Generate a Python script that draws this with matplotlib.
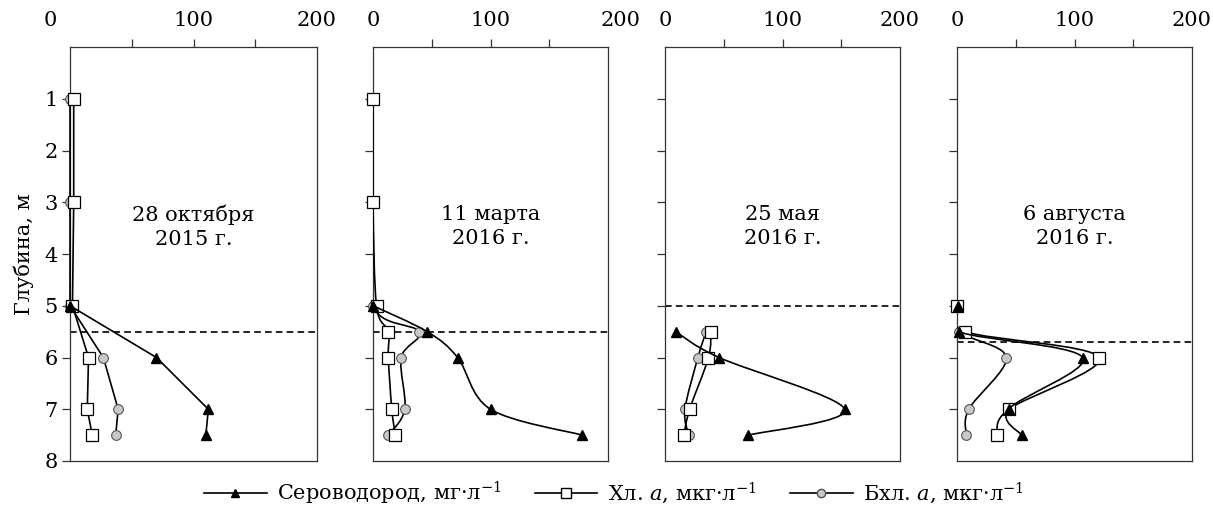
import numpy as np
import matplotlib.pyplot as plt
from matplotlib.path import Path
from matplotlib.patches import PathPatch
from matplotlib.lines import Line2D
from matplotlib.transforms import ScaledTranslation

plt.rcParams['font.family'] = ['DejaVu Serif']
plt.rcParams['mathtext.fontset'] = 'dejavuserif'

# глубины и значения
titles = ['28 октября\n2015 г.', '11 марта\n2016 г.', '25 мая\n2016 г.', '6 августа\n2016 г.']

h2s_depth = [[5, 6, 7, 7.5], [5, 5.5, 6, 7, 7.5], [5.5, 6, 7, 7.5], [5, 5.5, 6, 7, 7.5]]
h2s_val = [[0, 70, 112, 110], [0, 46, 72, 100, 178], [9, 46, 153, 71], [0.5, 1.5, 107, 44, 55]]

chl_depth = [[1, 3, 5, 6, 7, 7.5], [1, 3, 5, 5.5, 6, 7, 7.5], [5.5, 6, 7, 7.5], [5, 5.5, 6, 7, 7.5]]
chl_val = [[3, 3, 2, 15, 14, 18], [0, 0, 3, 13, 13, 16, 19], [39, 37, 21, 16], [0, 7, 121, 44, 34]]

bchl_depth = [[1, 3, 5, 6, 7, 7.5], [1, 3, 5, 5.5, 6, 7, 7.5], [5.5, 6, 7, 7.5], [5, 5.5, 6, 7, 7.5]]
bchl_val = [[0, 0, 0, 27, 39, 37], [0, 0, 0, 39, 24, 27, 13], [35, 28, 17, 20], [0, 2, 42, 10, 8]]

redox = [5.5, 5.5, 5.0, 5.7]  # пунктир
smooth = [False, True, True, True]

# положение панелей в пикселях (left, width)
W, H = 1213, 507
panels = [(70, 247), (373, 235), (665, 235), (957, 235)]
top, bottom = 47, 461
FS = 15


def smooth_path(x, y):
    pts = np.column_stack([x, y]).astype(float)
    n = len(pts)
    verts = [pts[0]]
    codes = [Path.MOVETO]
    for i in range(n - 1):
        p0 = pts[i - 1] if i > 0 else pts[i]
        p1 = pts[i]
        p2 = pts[i + 1]
        p3 = pts[i + 2] if i + 2 < n else pts[i + 1]
        verts += [p1 + (p2 - p0) / 6, p2 - (p3 - p1) / 6, p2]
        codes += [Path.CURVE4] * 3
    return Path(verts, codes)


def draw(ax, x, y, sm, **kw):
    if sm:
        ax.add_patch(PathPatch(smooth_path(x, y), fc='none', ec='black', lw=1.2,
                               zorder=kw.get('zorder', 2)))
        ax.plot(x, y, ls='none', clip_on=False, **kw)
    else:
        ax.plot(x, y, color='black', lw=1.2, clip_on=False, **kw)


fig = plt.figure(figsize=(W / 100, H / 100), dpi=100)

for i, (l, w) in enumerate(panels):
    ax = fig.add_axes([l / W, (H - bottom) / H, w / W, (bottom - top) / H])
    sm = smooth[i]
    draw(ax, bchl_val[i], bchl_depth[i], sm, marker='o', ms=7, mfc='#c8c8c8', mec='#555555', mew=0.8, zorder=3)
    draw(ax, chl_val[i], chl_depth[i], sm, marker='s', ms=8.5, mfc='white', mec='black', mew=0.9, zorder=4)
    draw(ax, h2s_val[i], h2s_depth[i], sm, marker='^', ms=7.5, mfc='black', mec='black', zorder=5)
    ax.axhline(redox[i], color='black', lw=1.2, ls=(0, (4, 2.5)), zorder=1)

    ax.set_xlim(0, 200)
    ax.set_ylim(8, 0)
    ax.xaxis.remove_overlapping_locs = False
    ax.xaxis.tick_top()
    ax.set_xticks([50, 100, 150])
    ax.set_xticklabels([])
    ax.set_xticks([0, 100, 200], minor=True)
    ax.set_xticklabels(['0', '100', '200'], minor=True)
    ax.tick_params(axis='x', which='major', direction='out', length=6, width=0.9, color='#333333')
    ax.tick_params(axis='x', which='minor', length=0, pad=12, labelsize=FS, top=True, labeltop=True,
                   bottom=False, labelbottom=False)
    ax.set_yticks([1, 2, 3, 4, 5, 6, 7])
    ax.tick_params(axis='y', direction='out', length=6, width=0.9, color='#333333', labelsize=FS, pad=3)
    if i == 0:
        ax.set_yticks([1, 2, 3, 4, 5, 6, 7, 8])
        ax.set_yticklabels(['1', '2', '3', '4', '5', '6', '7', '8'])
        ax.set_ylabel('Глубина, м', fontsize=FS, labelpad=7)
    else:
        ax.set_yticklabels([])
    # подписи «0» в первой панели и «200» во второй сдвинуты
    minlabs = ax.xaxis.get_minorticklabels()
    if i == 0 and len(minlabs) > 0:
        lab = minlabs[0]
        lab.set_transform(lab.get_transform() + ScaledTranslation(-20 / 100, 0, fig.dpi_scale_trans))
    if i == 1 and len(minlabs) > 2:
        lab = minlabs[2]
        lab.set_transform(lab.get_transform() + ScaledTranslation(13 / 100, 0, fig.dpi_scale_trans))
    for s in ax.spines.values():
        s.set_color('#333333')
        s.set_linewidth(0.9)
    ax.text(100, 3.47, titles[i], ha='center', va='center', fontsize=FS, linespacing=1.3)

handles = [
    Line2D([], [], color='black', lw=1.2, marker='^', ms=6, mfc='black', mec='black'),
    Line2D([], [], color='black', lw=1.2, marker='s', ms=6.5, mfc='white', mec='black'),
    Line2D([], [], color='black', lw=1.2, marker='o', ms=6, mfc='#c8c8c8', mec='#555555'),
]
labels = ['Сероводород, мг·л$^{-1}$', 'Хл. $a$, мкг·л$^{-1}$', 'Бхл. $a$, мкг·л$^{-1}$']
fig.legend(handles, labels, loc='center', bbox_to_anchor=(614 / W, 1 - 493 / H), ncol=3, frameon=False,
           fontsize=FS, handlelength=3.0, handletextpad=0.5, columnspacing=1.6)

fig.savefig('out.png', dpi=100)
